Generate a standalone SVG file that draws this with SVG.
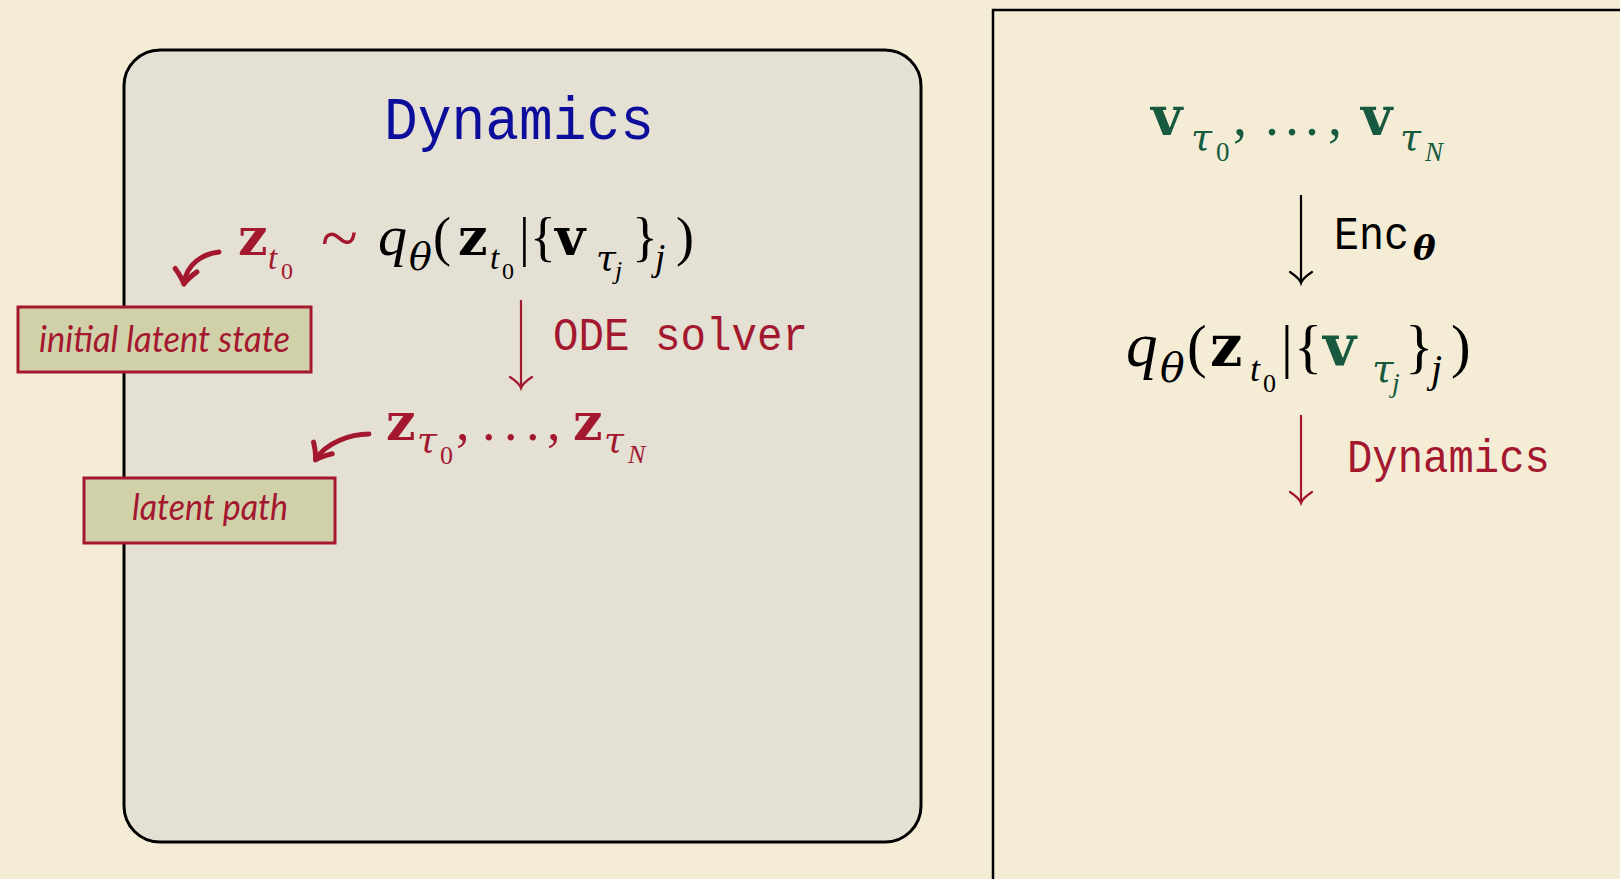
<svg xmlns="http://www.w3.org/2000/svg" width="1620" height="879" viewBox="0 0 1620 879">
<style>
.m{font-family:"Liberation Serif","DejaVu Serif",serif;fill:#000}
.b{font-family:"DejaVu Serif",serif;font-weight:bold}
.i{font-style:italic}
.g{font-family:"DejaVu Serif",serif;font-style:italic}
.tt{font-family:"Liberation Mono","DejaVu Sans Mono",monospace}
.red{fill:#a3182f}
.grn{fill:#175a40}
.blue{fill:#0d0d9c}
.lbl{fill:#d1d1a9;stroke:#a3182f;stroke-width:3}
.lbltxt{font-family:Lato,"Open Sans",sans-serif;font-style:italic;font-size:37px;fill:#a3182f}
.thin{fill:none;stroke-width:2.2}
.thick{fill:none;stroke:#a3182f;stroke-width:4.8;stroke-linecap:round}
</style>
<defs>
<marker id="tipRed" markerUnits="userSpaceOnUse" viewBox="-15 -15 18 30" refX="0" refY="0" markerWidth="18" markerHeight="30" orient="auto">
<path d="M-11,-11 C-7,-5 -3,-1 0,0 C-3,1 -7,5 -11,11" fill="none" stroke="#a3182f" stroke-width="2.2" stroke-linecap="round"/>
</marker>
<marker id="tipBlack" markerUnits="userSpaceOnUse" viewBox="-15 -15 18 30" refX="0" refY="0" markerWidth="18" markerHeight="30" orient="auto">
<path d="M-11,-11 C-7,-5 -3,-1 0,0 C-3,1 -7,5 -11,11" fill="none" stroke="#000" stroke-width="2.2" stroke-linecap="round"/>
</marker>
<marker id="tipThick" markerUnits="userSpaceOnUse" viewBox="-18 -16 22 32" refX="0" refY="0" markerWidth="22" markerHeight="32" orient="auto">
<path d="M-13,-11 Q-5,-3 1,0 Q-5,3 -13,11" fill="none" stroke="#a3182f" stroke-width="5" stroke-linecap="round" stroke-linejoin="round"/>
</marker>
</defs>
<rect x="0" y="0" width="1620" height="879" fill="#f5ecd6"/>

<g id="dynamics-panel">
<rect x="124" y="50" width="797" height="792" rx="36" ry="36" fill="#e4e0d3" stroke="#000" stroke-width="3"/>
<text class="tt blue" x="384" y="139" font-size="62" textLength="270" lengthAdjust="spacingAndGlyphs">Dynamics</text>
</g>

<g id="encoder-panel">
<path d="M993,879 V10 H1620" fill="none" stroke="#000" stroke-width="2.5"/>
</g>

<g id="node-zt0">
<text class="m">
<tspan class="b red" x="238" y="255" font-size="52">z</tspan><tspan class="i red" x="268" y="269" font-size="33">t</tspan><tspan class="red" x="281" y="279" font-size="24">0</tspan><tspan class="red" x="321" y="261" font-size="68">~</tspan><tspan class="i" x="378" y="255" font-size="58">q</tspan><tspan class="g" x="409" y="270" font-size="38">θ</tspan><tspan x="433" y="255" font-size="54">(</tspan><tspan class="b" x="458" y="255" font-size="52">z</tspan><tspan class="i" x="490" y="269" font-size="33">t</tspan><tspan x="502" y="279" font-size="24">0</tspan><tspan x="519" y="255" font-size="54">|</tspan><tspan x="530" y="255" font-size="54">{</tspan><tspan class="b" x="555" y="255" font-size="52">v</tspan><tspan class="g" x="596" y="270" font-size="36">τ</tspan><tspan class="i" x="615" y="279" font-size="26">j</tspan><tspan x="632" y="255" font-size="54">}</tspan><tspan class="i" x="655" y="270" font-size="37">j</tspan><tspan x="676" y="255" font-size="54">)</tspan>
</text>
</g>

<g id="node-initial-latent-state">
<rect class="lbl" x="18" y="307" width="293" height="65"/>
<text class="lbltxt" x="39" y="352" textLength="251" lengthAdjust="spacingAndGlyphs">initial latent state</text>
</g>

<g id="node-z-path">
<text class="m">
<tspan class="b red" x="386" y="440" font-size="52">z</tspan><tspan class="g red" x="417" y="452" font-size="36">τ</tspan><tspan class="red" x="440" y="464" font-size="26">0</tspan><tspan class="red" x="456" y="440" font-size="54">,</tspan><tspan class="red" x="482" y="440" font-size="54" letter-spacing="8.5">...</tspan><tspan class="red" x="547" y="440" font-size="54">,</tspan><tspan class="b red" x="573" y="440" font-size="52">z</tspan><tspan class="g red" x="604" y="452" font-size="36">τ</tspan><tspan class="i red" x="628" y="463" font-size="26">N</tspan>
</text>
</g>

<g id="node-latent-path">
<rect class="lbl" x="84" y="478" width="251" height="65"/>
<text class="lbltxt" x="132" y="520" textLength="156" lengthAdjust="spacingAndGlyphs">latent path</text>
</g>

<g id="node-v-seq">
<text class="m">
<tspan class="b grn" x="1151" y="135" font-size="54">v</tspan><tspan class="g grn" x="1191" y="150" font-size="38">τ</tspan><tspan class="grn" x="1216" y="161" font-size="27">0</tspan><tspan class="grn" x="1233" y="135" font-size="56">,</tspan><tspan class="grn" x="1265" y="135" font-size="56" letter-spacing="6">...</tspan><tspan class="grn" x="1328" y="135" font-size="56">,</tspan><tspan class="b grn" x="1361" y="135" font-size="54">v</tspan><tspan class="g grn" x="1400" y="150" font-size="38">τ</tspan><tspan class="i grn" x="1425" y="161" font-size="27">N</tspan>
</text>
</g>

<g id="node-q-posterior">
<text class="m">
<tspan class="i" x="1126" y="366" font-size="63">q</tspan><tspan class="g" x="1160" y="382" font-size="41">θ</tspan><tspan x="1187" y="366" font-size="59">(</tspan><tspan class="b" x="1210" y="366" font-size="57">z</tspan><tspan class="i" x="1250" y="381" font-size="36">t</tspan><tspan x="1263" y="392" font-size="26">0</tspan><tspan x="1281" y="366" font-size="59">|</tspan><tspan x="1294" y="366" font-size="59">{</tspan><tspan class="b grn" x="1323" y="366" font-size="57">v</tspan><tspan class="g grn" x="1372" y="382" font-size="39">τ</tspan><tspan class="i grn" x="1392" y="392" font-size="28">j</tspan><tspan x="1405" y="366" font-size="59">}</tspan><tspan class="i" x="1431" y="382" font-size="40">j</tspan><tspan x="1451" y="366" font-size="59">)</tspan>
</text>
</g>

<g id="connectors">
<path class="thick" d="M219,252 C202,254 187,264 184,283" marker-end="url(#tipThick)"/>
<path class="thick" d="M369,434 C350,434 326,443 316,459" marker-end="url(#tipThick)"/>
<path class="thin" stroke="#a3182f" d="M521,300 V388" marker-end="url(#tipRed)"/>
<text class="tt red" x="553" y="350" font-size="46" textLength="255" lengthAdjust="spacingAndGlyphs">ODE solver</text>
<path class="thin" stroke="#000" d="M1301,195 V283" marker-end="url(#tipBlack)"/>
<text class="m"><tspan class="tt" x="1334" y="249" font-size="46" textLength="75" lengthAdjust="spacingAndGlyphs">Enc</tspan><tspan class="b i" x="1413" y="260" font-size="34">θ</tspan></text>
<path class="thin" stroke="#a3182f" d="M1301,415 V503" marker-end="url(#tipRed)"/>
<text class="tt red" x="1347" y="472" font-size="46" textLength="203" lengthAdjust="spacingAndGlyphs">Dynamics</text>
</g>
</svg>
